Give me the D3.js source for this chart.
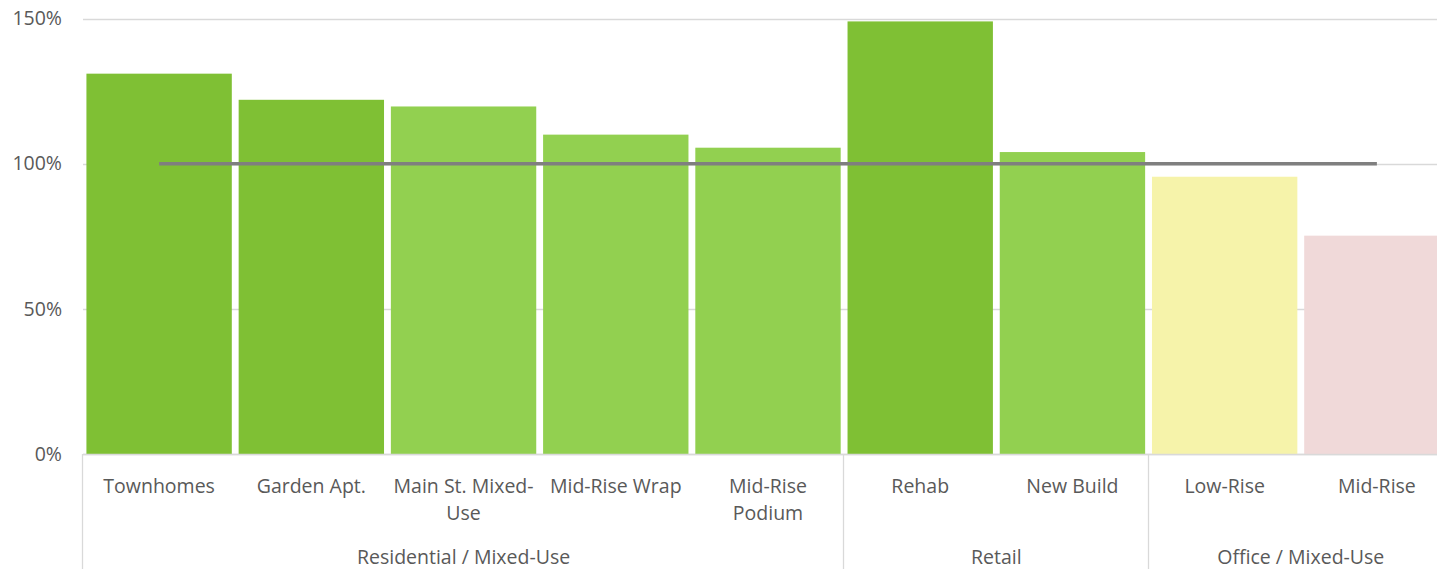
<!DOCTYPE html>
<html>
<head>
<meta charset="utf-8">
<script src="https://cdn.jsdelivr.net/npm/d3@7"></script>
<style>
  html, body { margin: 0; padding: 0; background: #fff; overflow: hidden; }
  text { font-family: "Open Sans", "Noto Sans", sans-serif; fill: #595959; }
</style>
</head>
<body>
<svg id="chart" width="1437" height="569"></svg>
<script>
const categories = ["Townhomes", "Garden Apt.", "Main St. Mixed-Use", "Mid-Rise Wrap", "Mid-Rise Podium", "Rehab", "New Build", "Low-Rise", "Mid-Rise"];
const categoryLines = [["Townhomes"], ["Garden Apt."], ["Main St. Mixed-", "Use"], ["Mid-Rise Wrap"], ["Mid-Rise", "Podium"], ["Rehab"], ["New Build"], ["Low-Rise"], ["Mid-Rise"]];
const groups = ["Residential / Mixed-Use", "Residential / Mixed-Use", "Residential / Mixed-Use", "Residential / Mixed-Use", "Residential / Mixed-Use", "Retail", "Retail", "Office / Mixed-Use", "Office / Mixed-Use"];
const values = [1.31, 1.22, 1.197, 1.10, 1.055, 1.49, 1.04, 0.955, 0.752];
const barColors = ["#7fc034", "#7fc034", "#92d050", "#92d050", "#92d050", "#7fc034", "#92d050", "#f6f3aa", "#f0d9d9"];
const target = [1, 1, 1, 1, 1, 1, 1, 1, 1];
const yTicks = [0, 0.5, 1, 1.5];

(function () {
const svg = d3.select("#chart");
const W = 1437, H = 569;
const left = 83, plotRight = 1453, plotTop = 18.5, bottom = 454;
const FS = 19.5;

const x = d3.scaleBand().domain(categories).range([left, plotRight]).paddingInner(0.045).paddingOuter(0.0225);
const y = d3.scaleLinear().domain([0, 1.5]).range([bottom, plotTop]);

// gridlines
svg.append("g").selectAll("line").data(yTicks).join("line")
  .attr("x1", left).attr("x2", W)
  .attr("y1", d => Math.round(y(d)) + 0.5).attr("y2", d => Math.round(y(d)) + 0.5)
  .attr("stroke", "#d9d9d9").attr("stroke-width", 1.3);

// y axis labels
const yAxis = d3.axisLeft(y).tickValues(yTicks).tickFormat(d3.format(".0%")).tickSize(0).tickPadding(0);
const gy = svg.append("g").attr("transform", `translate(62,0)`).call(yAxis);
gy.select(".domain").remove();
gy.selectAll("text").attr("font-size", FS).attr("fill", "#595959").style("font-family", '"Open Sans", sans-serif');

// bars
svg.append("g").selectAll("rect").data(categories).join("rect")
  .attr("x", d => x(d)).attr("width", x.bandwidth())
  .attr("y", (d, i) => y(values[i])).attr("height", (d, i) => y(0) - y(values[i]))
  .attr("fill", (d, i) => barColors[i]);

// baseline
svg.append("line").attr("x1", left).attr("x2", W).attr("y1", bottom + 0.5).attr("y2", bottom + 0.5)
  .attr("stroke", "#d9d9d9").attr("stroke-width", 1.3);

// target line
const line = d3.line().x((d, i) => x(categories[i]) + x.bandwidth() / 2).y(d => y(d));
svg.append("path").datum(target).attr("d", line)
  .attr("fill", "none").attr("stroke", "#7f7f7f").attr("stroke-width", 3.5);

// category labels
const catG = svg.append("g");
categories.forEach((c, i) => {
  const t = catG.append("text").attr("text-anchor", "middle").attr("font-size", FS)
    .attr("x", x(c) + x.bandwidth() / 2).attr("y", 493);
  categoryLines[i].forEach((ln, j) => {
    t.append("tspan").attr("x", x(c) + x.bandwidth() / 2).attr("dy", j === 0 ? 0 : 27).text(ln);
  });
});

// group labels and separators
const step = x.step();
const groupNames = [...new Set(groups)];
const seps = [left];
groupNames.forEach(g => {
  const idx = groups.map((v, i) => v === g ? i : -1).filter(i => i >= 0);
  const start = left + idx[0] * step;
  const end = left + (idx[idx.length - 1] + 1) * step;
  seps.push(end);
  svg.append("text").attr("text-anchor", "middle").attr("font-size", FS)
    .attr("x", (start + end) / 2).attr("y", 563.5).text(g);
});
svg.append("g").selectAll("line").data(seps).join("line")
  .attr("x1", d => Math.round(d) - 0.5).attr("x2", d => Math.round(d) - 0.5)
  .attr("y1", bottom).attr("y2", H)
  .attr("stroke", "#d9d9d9").attr("stroke-width", 1.3);
})();
</script>
</body>
</html>
